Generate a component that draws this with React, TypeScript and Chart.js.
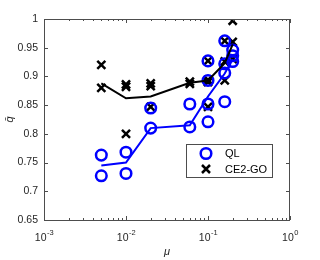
import React, { useEffect, useRef } from "react";
import { Chart, registerables } from "chart.js";
Chart.register(...registerables);

// mean curves
const MU = [0.005, 0.01, 0.02, 0.06, 0.1, 0.16, 0.2];
const QL_MEAN = [0.745, 0.75, 0.81, 0.815, 0.865, 0.905, 0.93];
const CE_MEAN = [0.888, 0.862, 0.865, 0.889, 0.893, 0.923, 0.956];

// individual runs: QL (circles)
const QL_MU = [0.005, 0.005, 0.01, 0.01, 0.02, 0.02, 0.06, 0.06, 0.1, 0.1, 0.1, 0.1, 0.16, 0.16, 0.16, 0.16, 0.2, 0.2, 0.2];
const QL_Q = [0.763, 0.727, 0.768, 0.731, 0.845, 0.81, 0.852, 0.812, 0.927, 0.893, 0.852, 0.821, 0.962, 0.922, 0.906, 0.856, 0.946, 0.936, 0.926];

// individual runs: CE2-GO (crosses)
const CE_MU = [0.005, 0.005, 0.01, 0.01, 0.01, 0.02, 0.02, 0.02, 0.06, 0.06, 0.1, 0.1, 0.1, 0.1, 0.16, 0.16, 0.16, 0.2, 0.2, 0.2];
const CE_Q = [0.92, 0.88, 0.886, 0.882, 0.8, 0.888, 0.883, 0.847, 0.891, 0.887, 0.927, 0.894, 0.89, 0.847, 0.962, 0.926, 0.893, 0.997, 0.96, 0.93];

const X_EXPONENTS = [-3, -2, -1, 0];
const Y_TICKS = [0.65, 0.7, 0.75, 0.8, 0.85, 0.9, 0.95, 1];
const LEGEND = ["QL", "CE2-GO"];
const X_TITLE = "μ";
const Y_TITLE = "q\u0304";

const FONT = "'Liberation Sans', Arial, sans-serif";
const AXIS_COLOR = "#4d4d4d";
const TEXT_COLOR = "#262626";

const framePlugin = {
  id: "frame",
  afterDraw(chart: any) {
    const ctx = chart.ctx;
    const { left, right, top, bottom } = chart.chartArea;
    const xs = chart.scales.x;
    const ys = chart.scales.y;
    ctx.save();
    // box
    ctx.strokeStyle = AXIS_COLOR;
    ctx.lineWidth = 1;
    ctx.strokeRect(Math.round(left) + 0.5, Math.round(top) + 0.5, Math.round(right - left) - 1, Math.round(bottom - top));
    // x ticks
    ctx.beginPath();
    for (let n = -3; n <= 0; n++) {
      const base = Math.pow(10, n);
      const px = Math.round(xs.getPixelForValue(base)) + 0.5;
      ctx.moveTo(px, bottom); ctx.lineTo(px, bottom - 4);
      ctx.moveTo(px, top); ctx.lineTo(px, top + 4);
      if (n < 0) {
        for (let k = 2; k <= 9; k++) {
          const mx = Math.round(xs.getPixelForValue(k * base)) + 0.5;
          ctx.moveTo(mx, bottom); ctx.lineTo(mx, bottom - 2);
          ctx.moveTo(mx, top); ctx.lineTo(mx, top + 2);
        }
      }
    }
    // y ticks
    for (const v of Y_TICKS) {
      const py = Math.round(ys.getPixelForValue(v)) + 0.5;
      ctx.moveTo(left, py); ctx.lineTo(left + 4, py);
      ctx.moveTo(right, py); ctx.lineTo(right - 4, py);
    }
    ctx.stroke();

    // x tick labels 10^n
    ctx.fillStyle = TEXT_COLOR;
    ctx.textBaseline = "alphabetic";
    ctx.textAlign = "left";
    for (const e of X_EXPONENTS) {
      const px = xs.getPixelForValue(Math.pow(10, e));
      ctx.font = `10.5px ${FONT}`;
      const w1 = ctx.measureText("10").width;
      ctx.font = `7.5px ${FONT}`;
      const es = String(e);
      const w2 = ctx.measureText(es).width;
      const x0 = px - (w1 + w2) / 2;
      ctx.font = `10.5px ${FONT}`;
      ctx.fillText("10", x0, 241);
      ctx.font = `7.5px ${FONT}`;
      ctx.fillText(es, x0 + w1 + 0.5, 235);
    }

    // axis titles
    ctx.textAlign = "center";
    ctx.textBaseline = "middle";
    ctx.font = `italic 11px ${FONT}`;
    ctx.fillText(X_TITLE, (left + right) / 2, 252);
    ctx.save();
    ctx.translate(10, (top + bottom) / 2);
    ctx.rotate(-Math.PI / 2);
    ctx.fillText(Y_TITLE, 0, 0);
    ctx.restore();

    // legend
    const lx = 186, ly = 144, lw = 86, lh = 33;
    ctx.fillStyle = "#ffffff";
    ctx.fillRect(lx, ly, lw, lh);
    ctx.strokeStyle = AXIS_COLOR;
    ctx.lineWidth = 1;
    ctx.strokeRect(lx + 0.5, ly + 0.5, lw, lh);
    // circle
    ctx.strokeStyle = "#0000ff";
    ctx.lineWidth = 2.5;
    ctx.beginPath();
    ctx.arc(206, 153.5, 5.3, 0, Math.PI * 2);
    ctx.stroke();
    // cross
    ctx.strokeStyle = "#000000";
    ctx.lineWidth = 2.5;
    ctx.beginPath();
    const c = 4;
    ctx.moveTo(206 - c, 169 - c); ctx.lineTo(206 + c, 169 + c);
    ctx.moveTo(206 - c, 169 + c); ctx.lineTo(206 + c, 169 - c);
    ctx.stroke();
    ctx.fillStyle = "#000000";
    ctx.textAlign = "left";
    ctx.font = `11px ${FONT}`;
    ctx.fillText(LEGEND[0], 225, 154);
    ctx.fillText(LEGEND[1], 225, 169.5);
    ctx.restore();
  },
};

export default function App() {
  const ref = useRef<HTMLCanvasElement | null>(null);
  useEffect(() => {
    if (!ref.current) return;
    const chart = new Chart(ref.current, {
      type: "scatter",
      data: {
        datasets: [
          {
            type: "line",
            label: "QL mean",
            data: MU.map((m, i) => ({ x: m, y: QL_MEAN[i] })),
            borderColor: "#0000ff",
            borderWidth: 2,
            pointRadius: 0,
            fill: false,
            tension: 0,
          },
          {
            type: "line",
            label: "CE2-GO mean",
            data: MU.map((m, i) => ({ x: m, y: CE_MEAN[i] })),
            borderColor: "#000000",
            borderWidth: 2,
            pointRadius: 0,
            fill: false,
            tension: 0,
          },
          {
            type: "scatter",
            label: LEGEND[0],
            data: QL_MU.map((m, i) => ({ x: m, y: QL_Q[i] })),
            pointStyle: "circle",
            pointRadius: 5.3,
            pointBorderWidth: 2.5,
            pointBorderColor: "#0000ff",
            pointBackgroundColor: "rgba(0,0,0,0)",
            borderColor: "#0000ff",
            backgroundColor: "rgba(0,0,0,0)",
          },
          {
            type: "scatter",
            label: LEGEND[1],
            data: CE_MU.map((m, i) => ({ x: m, y: CE_Q[i] })),
            pointStyle: "crossRot",
            pointRadius: 5.7,
            pointBorderWidth: 2.5,
            pointBorderColor: "#000000",
            borderColor: "#000000",
            backgroundColor: "#000000",
          },
        ],
      } as any,
      options: {
        animation: false,
        responsive: false,
        devicePixelRatio: 1,
        layout: { padding: { top: 19, right: 30, left: 0, bottom: 0 } },
        plugins: { legend: { display: false }, tooltip: { enabled: false } },
        scales: {
          x: {
            type: "logarithmic",
            min: 0.001,
            max: 1,
            grid: { display: false, drawTicks: false },
            border: { display: false },
            ticks: { display: false },
            afterFit: (s: any) => { s.height = 40; },
          },
          y: {
            type: "linear",
            min: 0.65,
            max: 1,
            afterBuildTicks: (s: any) => { s.ticks = Y_TICKS.map((v) => ({ value: v })); },
            ticks: {
              callback: (v: any) => String(Number(Number(v).toFixed(2))),
              font: { size: 10.5, family: FONT },
              color: TEXT_COLOR,
              padding: 6,
            },
            grid: { display: false, drawTicks: false },
            border: { display: false },
            afterFit: (s: any) => { s.width = 44; },
          },
        },
      } as any,
      plugins: [framePlugin],
    });
    return () => chart.destroy();
  }, []);
  return (
    <div style={{ position: "absolute", left: 0, top: 0, width: 320, height: 260, background: "#fff" }}>
      <canvas ref={ref} width={320} height={260} style={{ display: "block" }} />
    </div>
  );
}
